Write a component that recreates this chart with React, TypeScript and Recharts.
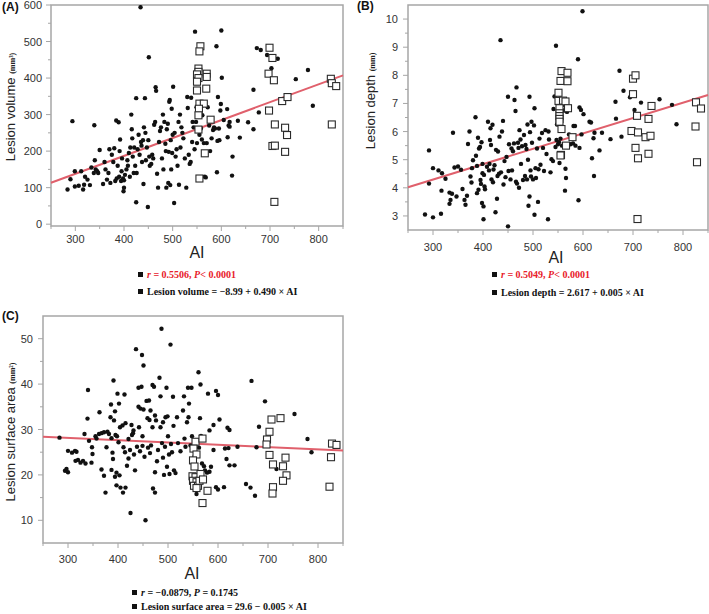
import React from 'react';
import { ScatterChart, Scatter, XAxis, YAxis, ReferenceLine, ReferenceArea } from 'recharts';

type P = [number, number];

// ---------- axes ----------
const aiTicks = [250, 300, 350, 400, 450, 500, 550, 600, 650, 700, 750, 800, 850];
const aiMajor = [300, 400, 500, 600, 700, 800];

const volumeTicks = [0, 50, 100, 150, 200, 250, 300, 350, 400, 450, 500, 550, 600];
const volumeMajor = [0, 100, 200, 300, 400, 500, 600];
const depthTicks = [3, 3.5, 4, 4.5, 5, 5.5, 6, 6.5, 7, 7.5, 8, 8.5, 9, 9.5, 10];
const depthMajor = [3, 4, 5, 6, 7, 8, 9, 10];
const areaTicks = [10, 15, 20, 25, 30, 35, 40, 45, 50];
const areaMajor = [10, 20, 30, 40, 50];

// ---------- panel A: lesion volume ----------
const volumeDots: P[] = [
  [284,95],[290,123],[294,282],[299,145],[299,103],[307,105],[312,145],[316,95],[318,108],[320,130],[325,122],[330,107],[333,155],[338,140],[339,271],[340,175],[342,150],[345,145],[347,140],[350,203],
  [357,110],[360,170],[362,150],[365,122],[368,140],[370,205],[372,113],[375,190],[378,170],[380,208],[382,118],[384,284],[385,125],[387,160],[389,279],[390,130],[391,200],[392,232],[394,118],[395,145],[396,180],[398,125],[399,90],[400,100],[400,120],[402,135],
  [405,150],[407,175],[408,160],[410,195],[412,130],[413,210],[415,300],[416,260],[417,235],[418,185],[420,140],[421,210],[423,160],[425,345],[425,60],[426,140],[428,205],[430,245],[432,190],[434,594],[435,225],[436,215],[437,170],[439,230],[440,110],[441,265],[443,345],[444,250],[445,175],[447,210],[449,47],[450,230],[451,457],[452,185],[453,160],
  [456,165],[458,190],[460,180],[462,272],[464,280],[465,375],[466,365],[468,138],[470,100],[472,225],[474,255],[476,265],[478,180],[480,300],[481,150],[483,280],[485,220],[486,200],[487,100],[488,260],[490,275],[491,113],[492,198],[493,335],[494,340],[495,107],[496,230],[497,150],[498,316],[499,195],[500,245],[501,376],[503,58],[504,250],[506,185],[508,205],
  [510,160],[512,280],[513,108],[515,300],[516,210],[518,265],[520,250],[522,235],[525,180],[528,100],[530,348],[531,318],[533,190],[535,165],[537,170],[538,346],[540,225],[541,280],[543,265],[545,205],[546,527],[548,280],[549,320],[550,222],[552,305],
  [555,245],[558,262],[560,232],[561,298],[564,222],[566,130],[568,128],[570,222],[572,320],[575,270],[577,200],[580,235],[583,258],[585,265],[587,262],[590,487],[591,142],[592,228],[593,348],[595,262],[596,230],[598,311],[600,530],[599,329],[601,401],
  [605,285],[612,315],[613,238],[615,270],[617,280],[623,185],[622,133],[617,267],[634,283],[638,237],
  [655,279],[666,368],[666,260],[673,482],[677,306],[681,477],[694,463],[703,427],[716,453],[753,397],[778,422],[788,324],
];
const volumeSquares: P[] = [
  [557,487],[555,473],[553,426],[553,417],[550,410],[553,400],[550,390],[570,412],[570,403],[569,371],[550,366],[555,330],[564,330],[554,316],[553,298],[578,286],[553,259],[566,194],[555,125],
  [699,483],[705,455],[697,412],[708,394],[698,311],[725,337],[736,348],[710,273],[731,264],[735,244],[705,214],[710,215],[731,198],[709,61],
  [825,398],[827,386],[836,378],[827,273],
];
const volumeLine: P[] = [[250, 113.5], [850, 407.5]];

// ---------- panel B: lesion depth ----------
const depthDots: P[] = [
  [284,3.05],[292,5.33],[292,4.15],[300,4.7],[300,2.95],[311,4.62],[316,3.08],[317,3.9],[318,4.52],[325,4.32],[333,3.83],[335,3.57],[333,3.43],[338,3.79],[340,5.96],[343,4.72],[347,3.69],[350,4.76],
  [356,4.64],[359,3.96],[363,3.57],[365,3.4],[368,3.72],[370,5.56],[373,6.0],[375,4.4],[377,4.19],[378,4.7],[380,4.98],[385,6.51],[386,5.14],[388,4.78],[388,3.81],[390,5.78],[391,3.93],[392,5.4],[394,5.45],[395,4.28],[396,4.14],[397,5.62],[398,3.46],[399,4.52],[399,4.85],[401,3.34],[401,2.88],[402,4.46],[403,4.05],[404,3.95],
  [408,4.75],[410,6.35],[412,4.62],[413,4.85],[414,5.7],[415,6.12],[416,5.52],[417,4.3],[419,6.24],[420,4.2],[421,4.65],[423,4.8],[425,3.13],[426,5.35],[428,3.61],[429,4.42],[430,5.29],[432,4.5],[433,5.82],[435,9.25],[436,4.55],[438,6.0],[440,6.38],[441,4.12],[443,4.95],[445,4.38],[447,5.1],[450,7.24],[450,2.63],[451,4.6],[452,5.55],
  [455,4.3],[457,5.4],[458,4.62],[460,5.3],[462,5.58],[463,7.12],[465,6.73],[466,4.22],[467,7.57],[468,4.15],[470,5.6],[471,5.42],[472,4.0],[473,6.05],[475,5.72],[476,4.85],[478,5.48],[480,4.28],[482,5.88],[484,4.42],[485,5.52],[487,5.38],[488,4.3],[489,6.25],[490,5.0],[491,3.36],[493,7.24],[493,3.69],[494,5.98],[495,4.62],[496,4.4],[497,6.35],[498,5.6],[500,4.3],
  [502,6.22],[503,6.83],[503,3.04],[505,4.7],[506,4.35],[508,5.4],[510,3.5],[511,4.66],[513,5.75],[515,4.82],[518,5.95],[520,5.42],[522,4.6],[525,6.05],[527,5.2],[530,2.88],[531,6.0],[532,5.72],[535,4.55],[537,5.02],[540,4.95],[541,6.8],[543,7.25],[545,5.45],[546,9.05],[547,5.7],[548,6.25],[550,5.55],
  [552,5.62],[553,4.88],[555,5.75],[558,5.5],[560,6.95],[562,6.75],[564,3.9],[565,4.68],[566,4.35],[568,6.7],[570,5.45],[572,5.9],[575,5.55],[581,6.2],[580,5.58],[584,6.2],[585,5.5],[590,8.57],[591,3.56],[593,6.86],[593,5.42],[596,6.77],[597,5.9],[601,6.62],[599,10.28],
  [613,6.35],[616,6.32],[621,5.76],[618,5.05],[622,4.42],[623,5.96],[633,5.33],[638,5.96],[655,5.73],[666,6.46],[665,7.06],[673,8.16],[677,5.82],[681,7.45],[694,7.22],[703,6.77],[716,7.03],[753,7.15],[778,6.95],[787,6.26],
];
const depthSquares: P[] = [
  [557,8.15],[569,8.09],[555,7.8],[569,7.79],[551,7.38],[551,7.09],[560,7.1],[565,7.07],[553,6.83],[570,6.83],[553,6.65],[553,6.55],[553,6.45],[553,6.35],[557,6.09],[566,5.5],[579,5.8],[556,5.17],[555,5.15],
  [700,7.88],[705,8.0],[700,7.33],[708,6.56],[697,6.02],[710,5.97],[705,5.42],[710,5.05],[731,6.45],[737,6.91],[725,5.8],[735,5.85],[731,5.21],[709,2.89],
  [826,7.04],[836,6.82],[825,6.18],[828,4.91],
];
const depthLine: P[] = [[250, 4.02], [850, 7.3]];

// ---------- panel C: lesion surface area ----------
const areaDots: P[] = [
  [283,28.2],[294,20.9],[297,21.3],[300,20.6],[300,25.3],[308,24.9],[314,25.3],[317,25.1],[315,23.1],[320,23.3],[325,22.7],[330,23.1],[333,29.0],[335,22.5],[339,32.4],[340,38.7],[342,27.5],[347,22.7],[348,26.1],[349,24.6],
  [355,28.5],[357,28.0],[362,29.0],[363,33.8],[367,29.2],[367,21.2],[372,29.4],[372,19.8],[375,16.1],[377,26.1],[379,29.5],[382,29.0],[385,32.7],[386,35.5],[387,28.1],[387,21.1],[389,24.9],[390,23.5],[391,40.8],[392,32.0],[394,34.0],[394,19.6],[395,28.8],[397,20.5],[397,17.7],[398,28.5],[399,37.9],[401,27.2],[402,35.7],[403,19.9],[404,30.5],[405,17.2],
  [409,30.9],[410,16.1],[411,26.1],[413,37.7],[414,25.0],[415,31.4],[415,17.2],[418,22.0],[421,27.9],[421,23.6],[424,25.5],[425,11.6],[427,31.0],[428,28.8],[430,29.2],[431,29.8],[432,24.5],[434,21.0],[436,47.7],[438,26.2],[441,39.2],[441,35.0],[442,30.5],[444,25.2],[445,34.6],[447,39.4],[448,46.4],[449,28.5],[449,26.4],[451,34.4],[451,44.1],[453,24.0],[455,10.0],
  [457,36.3],[459,32.5],[460,26.0],[462,36.4],[463,32.1],[464,24.8],[465,34.2],[466,26.5],[469,39.8],[469,30.5],[470,17.0],[472,39.4],[474,33.1],[474,20.6],[474,16.1],[476,32.0],[478,23.0],[480,25.5],[483,41.4],[485,37.3],[485,30.5],[487,52.2],[488,27.0],[490,31.6],[490,23.8],[492,20.0],[494,26.2],[495,32.7],[497,39.2],[498,21.8],[499,32.9],[500,28.5],
  [502,24.5],[503,20.2],[505,48.7],[506,26.8],[508,25.0],[510,37.2],[511,30.8],[512,21.0],[515,20.4],[518,32.7],[520,27.0],[525,25.2],[530,34.2],[532,37.3],[533,28.0],[535,26.2],[538,31.6],[540,39.2],[541,32.7],[542,35.7],[545,26.5],[547,39.2],[548,28.5],
  [550,26.0],[553,24.0],[557,15.8],[558,19.2],[561,42.6],[562,26.0],[564,32.5],[565,39.9],[566,28.6],[568,22.5],[572,21.9],[574,21.0],[580,37.9],[578,20.5],[583,20.7],[583,29.8],[586,21.8],[591,31.0],[591,25.5],[596,17.3],[596,38.5],[600,37.6],[600,16.8],[603,32.2],
  [612,17.3],[614,25.8],[617,23.5],[619,30.4],[621,25.9],[623,29.9],[623,22.1],[633,22.1],[639,26.2],[656,18.0],[665,17.2],[667,40.7],[674,15.4],[677,26.1],[682,30.6],[694,36.2],[717,21.3],[753,33.4],[779,27.9],[787,25.0],
];
const areaSquares: P[] = [
  [555,27.3],[569,28.0],[551,25.8],[557,24.5],[550,23.2],[553,21.85],[549,19.7],[555,19.5],[550,18.7],[557,18.4],[552,17.6],[560,17.6],[565,20.2],[563,18.7],[570,19.0],[557,17.1],[579,16.5],[569,13.8],
  [707,32.2],[725,32.5],[703,29.5],[698,27.8],[697,26.7],[703,24.4],[710,22.3],[735,23.8],[737,19.9],[730,21.9],[730,18.7],[710,17.3],[709,15.9],
  [828,26.9],[837,26.6],[826,23.9],[823,17.4],
];
const areaLine: P[] = [[250, 28.4], [850, 25.35]];

// ---------- helpers ----------
const toXY = (arr: P[]) => arr.map(([x, y]) => ({ x, y }));

const FRAME = '#a6a6a6';
const FIT = '#e0606c';
const TICK_TEXT = '#333';

const Dot = (props: any) => <circle cx={props.cx} cy={props.cy} r={2.2} fill="#111" />;
const Sq = (props: any) => (
  <rect x={props.cx - 3.5} y={props.cy - 3.5} width={7} height={7} fill="#fff" stroke="#2a2a2a" strokeWidth={1.1} />
);

const makeXTick = (major: number[], gap: number) => (props: any) => {
  const { x, y, payload } = props;
  const isMajor = major.includes(payload.value);
  return (
    <g>
      <line x1={x} y1={y} x2={x} y2={y + (isMajor ? 5 : 3)} stroke={FRAME} strokeWidth={1} />
      {isMajor && (
        <text x={x} y={y + gap} textAnchor="middle" dominantBaseline="central" fontFamily="'Liberation Sans', Arial, sans-serif" fontSize={11} fill={TICK_TEXT}>
          {payload.value}
        </text>
      )}
    </g>
  );
};

const makeYTick = (major: number[], gap: number) => (props: any) => {
  const { x, y, payload } = props;
  const isMajor = major.includes(payload.value);
  return (
    <g>
      <line x1={x} y1={y} x2={x - (isMajor ? 5 : 3)} y2={y} stroke={FRAME} strokeWidth={1} />
      {isMajor && (
        <text x={x - gap} y={y} textAnchor="end" dominantBaseline="central" fontFamily="'Liberation Sans', Arial, sans-serif" fontSize={11} fill={TICK_TEXT}>
          {payload.value}
        </text>
      )}
    </g>
  );
};

type PanelProps = {
  left: number; top: number; width: number; height: number;
  margin: { top: number; right: number; bottom: number; left: number };
  yDomain: [number, number]; yTicks: number[]; yMajor: number[];
  dots: P[]; squares: P[]; line: P[]; xGap: number; yGap: number;
};

const Panel = (p: PanelProps) => (
  <div style={{ position: 'absolute', left: p.left, top: p.top }}>
    <ScatterChart width={p.width} height={p.height} margin={p.margin}>
      <XAxis type="number" dataKey="x" domain={[250, 850]} ticks={aiTicks} interval={0} allowDataOverflow
        height={1} tickSize={0} tickMargin={0} axisLine={false} tickLine={false} tick={makeXTick(aiMajor, p.xGap)} />
      <YAxis type="number" dataKey="y" domain={p.yDomain} ticks={p.yTicks} interval={0} allowDataOverflow
        width={1} tickSize={0} tickMargin={0} axisLine={false} tickLine={false} tick={makeYTick(p.yMajor, p.yGap)} />
      <ReferenceArea x1={250} x2={850} y1={p.yDomain[0]} y2={p.yDomain[1]} fill="none" fillOpacity={0} stroke={FRAME} strokeWidth={1.5} ifOverflow="visible" />
      <Scatter data={toXY(p.dots)} shape={Dot} isAnimationActive={false} />
      <Scatter data={toXY(p.squares)} shape={Sq} isAnimationActive={false} />
      <ReferenceLine segment={toXY(p.line)} stroke={FIT} strokeWidth={2} ifOverflow="visible" />
    </ScatterChart>
  </div>
);

const T = ({ x, y, center, children, style }: any) => (
  <div style={{
    position: 'absolute', left: x, top: y, whiteSpace: 'nowrap', lineHeight: 1,
    transform: center ? 'translate(-50%,-50%)' : 'translate(0,-50%)', ...style,
  }}>{children}</div>
);

const sans = "'Liberation Sans', Arial, sans-serif";
const serif = "'Liberation Serif', 'Times New Roman', serif";

const Bullet = () => (
  <span style={{ display: 'inline-block', width: 5, height: 5, background: '#111', marginRight: 4, verticalAlign: 'middle', position: 'relative', top: -1 }} />
);

const Legend = ({ x, y1, y2, red, r, p, eq }: any) => (
  <>
    <T x={x} y={y1} style={{ fontFamily: serif, fontWeight: 'bold', fontSize: 10, color: red ? '#e8202a' : '#111' }}>
      <Bullet /><i>r</i> = {r}, <i>P</i>{p}
    </T>
    <T x={x} y={y2} style={{ fontFamily: serif, fontWeight: 'bold', fontSize: 10, color: '#111' }}>
      <Bullet />{eq}
    </T>
  </>
);

const YTitle = ({ x, y, main, unit }: any) => (
  <div style={{
    position: 'absolute', left: x, top: y, transform: 'translate(-50%,-50%) rotate(-90deg)',
    whiteSpace: 'nowrap', lineHeight: 1, fontFamily: sans, fontSize: 13, color: '#222',
  }}>
    {main}<span style={{ fontFamily: serif, fontWeight: 'bold', fontSize: 8 }}>{unit}</span>
  </div>
);

export default function App() {
  return (
    <div style={{ position: 'absolute', left: 0, top: 0, width: 709, height: 614, background: '#fff', overflow: 'hidden' }}>
      <Panel left={0} top={0} width={355} height={300} margin={{ top: 5, right: 12, bottom: 73, left: 50 }}
        yDomain={[-5, 600]} yTicks={volumeTicks} yMajor={volumeMajor}
        dots={volumeDots} squares={volumeSquares} line={volumeLine} xGap={13} yGap={9} />
      <Panel left={355} top={0} width={354} height={300} margin={{ top: 5, right: 1, bottom: 69, left: 52 }}
        yDomain={[2.5, 10.5]} yTicks={depthTicks} yMajor={depthMajor}
        dots={depthDots} squares={depthSquares} line={depthLine} xGap={17} yGap={10} />
      <Panel left={0} top={300} width={355} height={314} margin={{ top: 16, right: 12, bottom: 70, left: 42 }}
        yDomain={[5, 55]} yTicks={areaTicks} yMajor={areaMajor}
        dots={areaDots} squares={areaSquares} line={areaLine} xGap={16} yGap={10} />

      <T x={2} y={7} style={{ fontFamily: sans, fontWeight: 'bold', fontSize: 12, color: '#111' }}>(A)</T>
      <T x={357} y={6} style={{ fontFamily: sans, fontWeight: 'bold', fontSize: 12, color: '#111' }}>(B)</T>
      <T x={2} y={316} style={{ fontFamily: sans, fontWeight: 'bold', fontSize: 12, color: '#111' }}>(C)</T>

      <YTitle x={10} y={107} main="Lesion volume " unit="(mm³)" />
      <YTitle x={370} y={101} main="Lesion depth " unit="(mm)" />
      <YTitle x={10} y={432} main="Lesion surface area " unit="(mm²)" />

      <T x={197} y={253} center style={{ fontFamily: sans, fontSize: 16, color: '#222' }}>AI</T>
      <T x={556} y={258} center style={{ fontFamily: sans, fontSize: 16, color: '#222' }}>AI</T>
      <T x={192} y={574} center style={{ fontFamily: sans, fontSize: 16, color: '#222' }}>AI</T>

      <Legend x={138} y1={275} y2={292} red r="0.5506" p="< 0.0001" eq="Lesion volume = −8.99 + 0.490 × AI" />
      <Legend x={492} y1={275} y2={293} red r="0.5049" p="< 0.0001" eq="Lesion depth = 2.617 + 0.005 × AI" />
      <Legend x={132} y1={593} y2={607} r="−0.0879" p=" = 0.1745" eq="Lesion surface area = 29.6 − 0.005 × AI" />
    </div>
  );
}
